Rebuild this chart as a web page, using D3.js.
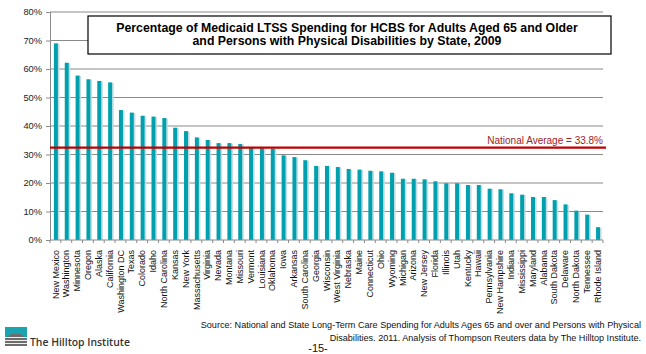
<!DOCTYPE html>
<html>
<head>
<meta charset="utf-8">
<script src="https://cdn.jsdelivr.net/npm/d3@7"></script>
<style>
  body { margin: 0; background: #fff; }
  svg { font-family: "Liberation Sans", Arial, sans-serif; }
</style>
</head>
<body>
<svg id="chart" width="646" height="354"></svg>
<script>
const states = ["New Mexico", "Washington", "Minnesota", "Oregon", "Alaska", "California",
  "Washington DC", "Texas", "Colorado", "Idaho", "North Carolina", "Kansas", "New York",
  "Massachusetts", "Virginia", "Nevada", "Montana", "Missouri", "Vermont", "Louisiana",
  "Oklahoma", "Iowa", "Arkansas", "South Carolina", "Georgia", "Wisconsin", "West Virginia",
  "Nebraska", "Maine", "Connecticut", "Ohio", "Wyoming", "Michigan", "Arizona", "New Jersey",
  "Florida", "Illinois", "Utah", "Kentucky", "Hawaii", "Pennsylvania", "New Hampshire",
  "Indiana", "Mississippi", "Maryland", "Alabama", "South Dakota", "Delaware", "North Dakota",
  "Tennessee", "Rhode Island"];
const shares = [69.0, 62.2, 57.7, 56.4, 55.8, 55.3,
  45.6, 44.7, 43.6, 43.3, 42.8, 39.4, 38.2,
  36.0, 35.1, 34.0, 34.0, 33.7, 32.4, 32.2,
  32.1, 29.7, 29.1, 28.0, 26.0, 26.0, 25.6,
  24.9, 24.7, 24.3, 24.1, 23.6, 21.5, 21.5, 21.3,
  20.6, 19.9, 19.9, 19.3, 19.3, 18.0, 17.8,
  16.4, 15.9, 15.1, 15.1, 14.0, 12.5, 10.3,
  8.9, 4.5];
const yTicks = [0, 10, 20, 30, 40, 50, 60, 70, 80];
const avgLineAt = 32.4;
const avgLabel = "National Average = 33.8%";
const titleLines = ["Percentage of Medicaid LTSS Spending for HCBS for Adults Aged 65 and Older",
  "and Persons with Physical Disabilities by State, 2009"];
const sourceLines = ["Source: National and State Long-Term Care Spending for Adults Ages 65 and over and Persons with Physical",
  "Disabilities. 2011. Analysis of Thompson Reuters data by The Hilltop Institute."];

const svg = d3.select("#chart");
const plotL = 50, plotR = 603, plotT = 12, plotB = 240;

const x = d3.scaleBand().domain(states).range([plotL, plotR]);
const y = d3.scaleLinear().domain([0, 80]).range([plotB, plotT]);
const bw = x.bandwidth();

// gridlines
svg.append("g")
  .selectAll("line")
  .data(yTicks.filter(d => d > 0))
  .join("line")
  .attr("x1", plotL).attr("x2", plotR)
  .attr("y1", d => y(d)).attr("y2", d => y(d))
  .attr("stroke", "#8a8a8a").attr("stroke-width", 1);

// y axis
const yAxis = d3.axisLeft(y).tickValues(yTicks).tickSize(4).tickFormat(d => d + "%");
const gy = svg.append("g").attr("transform", `translate(${plotL},0)`).call(yAxis);
gy.select(".domain").attr("stroke", "#8a8a8a");
gy.selectAll(".tick line").attr("stroke", "#8a8a8a");
gy.selectAll(".tick text").attr("x", -8).attr("fill", "#222")
  .style("font-size", "9.3px").style("font-family", "Liberation Sans, Arial, sans-serif");

// bars: shadow + teal
const bars = svg.append("g");
bars.selectAll("rect.sh")
  .data(states)
  .join("rect")
  .attr("class", "sh")
  .attr("x", d => x(d) + bw * 0.36 + 4)
  .attr("width", 1.6)
  .attr("y", (d, i) => y(shares[i]) + 0.5)
  .attr("height", (d, i) => plotB - y(shares[i]) - 0.5)
  .attr("fill", "#c5dde2");
bars.selectAll("rect.bar")
  .data(states)
  .join("rect")
  .attr("class", "bar")
  .attr("x", d => x(d) + bw * 0.36)
  .attr("width", 4)
  .attr("y", (d, i) => y(shares[i]))
  .attr("height", (d, i) => plotB - y(shares[i]))
  .attr("fill", "#00a0ae");

// x axis baseline and ticks between categories
const gx = svg.append("g");
gx.append("line")
  .attr("x1", plotL).attr("x2", plotR)
  .attr("y1", plotB).attr("y2", plotB)
  .attr("stroke", "#8a8a8a");
gx.selectAll("line.tk")
  .data(states.concat(["__end"]))
  .join("line")
  .attr("class", "tk")
  .attr("x1", d => d === "__end" ? plotR : x(d))
  .attr("x2", d => d === "__end" ? plotR : x(d))
  .attr("y1", plotB).attr("y2", plotB + 3)
  .attr("stroke", "#8a8a8a");
gx.selectAll("text")
  .data(states)
  .join("text")
  .attr("transform", d => `translate(${x(d) + bw / 2},250) rotate(-90)`)
  .attr("text-anchor", "end")
  .attr("dy", "0.35em")
  .attr("font-size", 9)
  .attr("fill", "#111")
  .text(d => d);

// national average
svg.append("line")
  .attr("x1", plotL).attr("x2", 606)
  .attr("y1", y(avgLineAt)).attr("y2", y(avgLineAt))
  .attr("stroke", "#c00000").attr("stroke-width", 2.4);
svg.append("text")
  .attr("x", 603).attr("y", y(avgLineAt) - 4)
  .attr("text-anchor", "end")
  .attr("font-size", 10)
  .attr("fill", "#a01c28")
  .text(avgLabel);

// title box
svg.append("rect")
  .attr("x", 88).attr("y", 16).attr("width", 523).attr("height", 38)
  .attr("fill", "#fff").attr("stroke", "#000").attr("stroke-width", 1.2);
svg.append("g").selectAll("text")
  .data(titleLines)
  .join("text")
  .attr("x", 347)
  .attr("y", (d, i) => 31.5 + i * 13.5)
  .attr("text-anchor", "middle")
  .attr("font-size", 12.3)
  .attr("font-weight", "bold")
  .attr("fill", "#000")
  .text(d => d);

// source
svg.append("g").selectAll("text")
  .data(sourceLines)
  .join("text")
  .attr("x", 641)
  .attr("y", (d, i) => 328 + i * 12.5)
  .attr("text-anchor", "end")
  .attr("font-size", 9.1)
  .attr("fill", "#111")
  .text(d => d);

svg.append("text")
  .attr("x", 318).attr("y", 352)
  .attr("text-anchor", "middle")
  .attr("font-size", 11)
  .attr("fill", "#111")
  .text("-15-");

// logo
const logo = svg.append("g");
logo.append("rect").attr("x", 5).attr("y", 327).attr("width", 22).attr("height", 12).attr("fill", "#1aa3b0");
logo.append("path").attr("d", "M5,339 L11,334 L21,334 L27,339 L27,346 L5,346 Z").attr("fill", "#6d6d6d");
[337.5, 340.5, 343.5].forEach(v => {
  logo.append("line").attr("x1", 5).attr("x2", 27).attr("y1", v).attr("y2", v)
    .attr("stroke", "#fff").attr("stroke-width", 0.9);
});
logo.append("text")
  .attr("x", 30).attr("y", 346)
  .attr("font-family", "Open Sans, Noto Sans, sans-serif")
  .attr("font-size", 10.4)
  .attr("font-weight", 600)
  .attr("fill", "#333")
  .text("The Hilltop Institute");
</script>
</body>
</html>
